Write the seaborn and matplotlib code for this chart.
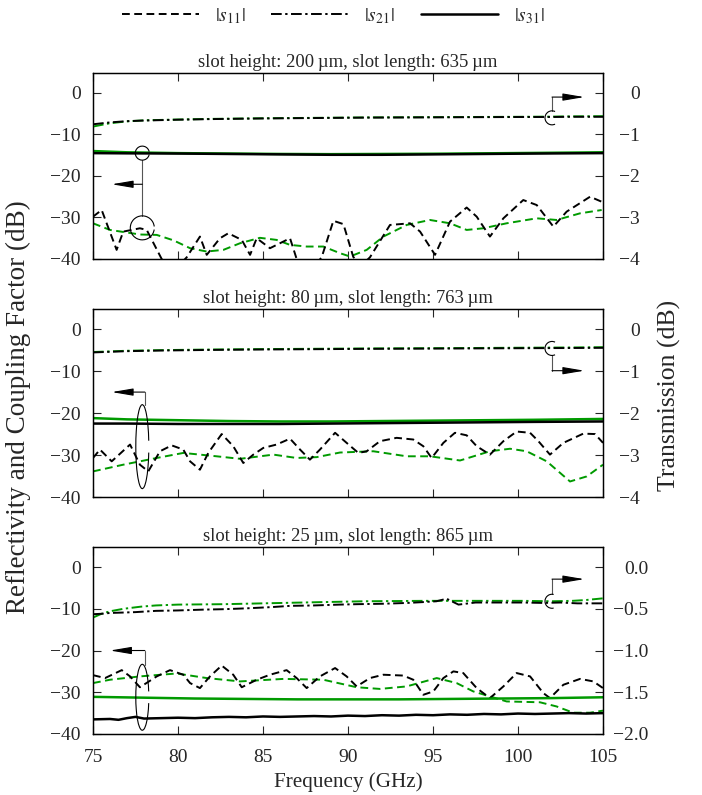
import numpy as np
import pandas as pd
import matplotlib
matplotlib.use("Agg")
import matplotlib.pyplot as plt
import seaborn as sns
from matplotlib.patches import Arc
from matplotlib.lines import Line2D

sns.set_style("ticks")
plt.rcParams["font.family"] = ["Liberation Serif", "DejaVu Serif"]
plt.rcParams["mathtext.fontset"] = "stix"
plt.rcParams["axes.unicode_minus"] = True

GREEN = "#009a00"
BLACK = "#000000"

# ---------------- data ----------------
titles = ["slot height: 200\u2009\u00b5m, slot length: 635\u2009\u00b5m",
          "slot height: 80\u2009\u00b5m, slot length: 763\u2009\u00b5m",
          "slot height: 25\u2009\u00b5m, slot length: 865\u2009\u00b5m"]
legend_labels = [r"$|s_{11}|$", r"$|s_{21}|$", r"$|s_{31}|$"]
x_ticks = [75, 80, 85, 90, 95, 100, 105]
left_ticks = [0, -10, -20, -30, -40]
right_ticks_12 = [0, -1, -2, -3, -4]
right_ticks_3 = [0.0, -0.5, -1.0, -1.5, -2.0]

# panel 1 : s11 (left axis, dB)
p1_s11_meas_f = [75.0, 75.51, 76.39, 76.78, 77.76, 78.16, 79.04, 79.73, 80.51, 81.29, 81.69,
                 82.47, 82.96, 83.75, 84.24, 84.63, 85.41, 86.59, 86.98, 87.76, 88.45, 89.14,
                 89.73, 90.31, 90.8, 91.29, 92.47, 93.65, 94.24, 95.12, 96.0, 96.98, 97.57,
                 98.35, 99.14, 100.31, 101.1, 102.08, 102.86, 104.24, 104.92]
p1_s11_meas = [-29.8, -28.2, -37.8, -33.4, -32.6, -33.0, -40.0, -43.0, -39.6, -34.6, -39.0,
               -35.0, -33.8, -35.4, -39.0, -35.0, -37.4, -35.0, -40.0, -43.0, -39.6, -30.8,
               -31.6, -39.5, -41.5, -39.6, -31.8, -31.4, -33.4, -39.0, -31.0, -27.6, -29.8,
               -34.6, -30.2, -25.8, -27.0, -32.2, -28.6, -25.0, -26.2]
p1_s11_sim_f = [75.0, 76.0, 77.76, 78.75, 79.73, 80.71, 81.69, 82.67, 83.65, 84.82, 85.8, 86.59,
                87.57, 88.55, 89.53, 90.12, 91.1, 92.08, 93.45, 94.82, 96.0, 96.98, 97.96,
                99.33, 101.1, 102.27, 103.65, 104.92]
p1_s11_sim = [-31.4, -33.0, -34.1, -34.2, -35.5, -37.4, -38.2, -37.8, -36.2, -34.9, -35.4, -36.6,
              -37.0, -37.0, -38.6, -39.4, -37.8, -34.6, -31.8, -30.6, -31.4, -33.0, -32.6,
              -31.4, -30.2, -30.6, -29.0, -28.2]
# panel 1 : s31 (left axis)
p1_s31_f = [75, 77, 80, 83, 86, 89, 92, 95, 98, 101, 105]
p1_s31_meas = [-14.5, -14.55, -14.6, -14.7, -14.8, -14.9, -14.9, -14.8, -14.7, -14.6, -14.5]
p1_s31_sim = [-14.0, -14.3, -14.5, -14.6, -14.7, -14.75, -14.7, -14.65, -14.55, -14.45, -14.3]
# panel 1 : s21 (right axis, transmission dB)
p1_s21_f = [75, 76, 77, 78, 80, 82, 85, 88, 91, 94, 97, 100, 102, 103, 105]
p1_s21_meas = [-0.755, -0.71, -0.68, -0.665, -0.645, -0.63, -0.615, -0.605, -0.595, -0.59,
               -0.585, -0.58, -0.58, -0.575, -0.575]
p1_s21_sim = [-0.81, -0.73, -0.685, -0.66, -0.64, -0.625, -0.61, -0.6, -0.59, -0.585, -0.58,
              -0.575, -0.57, -0.565, -0.56]

# panel 2
p2_s11_meas_f = [75.0, 75.41, 76.10, 77.18, 77.76, 78.25, 78.94, 79.63, 80.31, 80.71, 81.29,
                 81.78, 82.57, 83.25, 83.84, 84.43, 85.02, 85.80, 86.59, 87.18, 87.76, 88.35,
                 89.24, 89.92, 90.61, 91.10, 91.88, 92.86, 93.84, 94.43, 94.92, 95.61, 96.29,
                 96.98, 97.57, 98.35, 99.14, 99.92, 100.71, 101.2, 101.88, 102.67, 103.84,
                 104.53, 105.0]
p2_s11_meas = [-30.7, -28.7, -31.5, -27.5, -32.3, -33.9, -29.1, -27.7, -28.7, -31.5, -33.5,
               -29.5, -25.0, -27.9, -31.9, -29.9, -28.3, -27.5, -26.1, -28.7, -31.1, -28.7,
               -24.7, -27.1, -29.5, -29.1, -26.7, -25.9, -26.3, -27.9, -30.7, -27.1, -24.7,
               -25.3, -27.9, -29.9, -26.7, -24.4, -24.7, -26.7, -29.9, -27.1, -24.9, -25.0,
               -27.1]
p2_s11_sim_f = [75.0, 76.78, 78.75, 80.31, 82.27, 83.65, 85.61, 86.98, 88.16, 89.53, 91.49,
                93.45, 94.82, 96.59, 98.35, 99.53, 100.51, 101.69, 103.06, 104.04, 105.0]
p2_s11_sim = [-33.9, -32.3, -30.7, -29.5, -30.3, -30.9, -29.9, -30.7, -30.5, -29.4, -29.1,
              -30.3, -30.3, -31.3, -29.1, -28.5, -29.1, -31.5, -36.3, -35.1, -32.3]
p2_s31_f = [75, 77, 80, 83, 86, 89, 92, 95, 98, 101, 105]
p2_s31_meas = [-22.5, -22.5, -22.6, -22.6, -22.6, -22.5, -22.4, -22.3, -22.2, -22.1, -22.0]
p2_s31_sim = [-21.2, -21.5, -21.7, -21.9, -22.0, -22.0, -21.9, -21.8, -21.7, -21.6, -21.4]
p2_s21_f = [75, 76, 77, 79, 82, 85, 88, 91, 94, 97, 100, 103, 105]
p2_s21_meas = [-0.555, -0.54, -0.525, -0.51, -0.495, -0.485, -0.478, -0.47, -0.465, -0.46,
               -0.455, -0.45, -0.445]
p2_s21_sim = [-0.545, -0.53, -0.515, -0.5, -0.485, -0.475, -0.468, -0.46, -0.455, -0.45,
              -0.443, -0.437, -0.43]

# panel 3
p3_s11_meas_f = [75.0, 75.71, 76.69, 77.18, 77.76, 78.75, 79.53, 80.31, 80.71, 81.29, 81.88,
                 82.57, 83.25, 83.75, 84.63, 85.41, 86.39, 86.98, 87.57, 88.35, 89.24, 89.92,
                 90.51, 91.29, 92.08, 93.25, 93.84, 94.43, 95.02, 95.61, 96.2, 96.78, 97.57,
                 98.35, 99.14, 99.92, 100.71, 101.49, 101.88, 102.67, 103.65, 104.43, 105.0]
p3_s11_meas = [-25.9, -26.6, -24.7, -26.2, -28.8, -26.2, -24.7, -25.8, -27.8, -29.0, -26.2,
               -23.6, -25.8, -28.8, -27.0, -25.8, -24.7, -26.6, -29.0, -26.2, -24.2, -26.2,
               -28.6, -26.6, -25.8, -26.0, -27.0, -30.6, -29.8, -26.6, -25.0, -25.4, -29.0,
               -31.4, -28.6, -25.4, -26.2, -30.2, -31.4, -28.2, -26.8, -27.4, -29.0]
p3_s11_sim_f = [75.0, 76.0, 77.76, 79.92, 81.69, 83.65, 86.2, 88.55, 90.51, 91.88, 93.45,
                95.22, 96.39, 97.37, 99.33, 101.29, 102.27, 103.25, 104.24, 105.0]
p3_s11_sim = [-27.8, -27.0, -26.2, -25.5, -26.6, -27.4, -26.8, -27.0, -28.8, -29.2, -28.6,
              -26.6, -27.8, -29.8, -32.2, -32.4, -33.4, -34.9, -34.9, -34.4]
p3_s31_meas_f = [75, 76, 76.5, 77, 77.5, 78, 79, 80, 81, 82, 83, 84, 85, 86, 87, 88, 89, 90,
                 91, 92, 93, 94, 95, 96, 97, 98, 99, 100, 101, 102, 103, 104, 105]
p3_s31_meas = [-36.5, -36.4, -36.6, -36.2, -35.9, -36.3, -36.2, -36.1, -36.2, -36.0, -35.9,
               -36.0, -35.8, -35.9, -35.8, -35.7, -35.8, -35.6, -35.7, -35.5, -35.6, -35.4,
               -35.5, -35.3, -35.4, -35.2, -35.3, -35.1, -35.2, -35.1, -35.0, -35.1, -35.0]
p3_s31_sim_f = [75, 78, 81, 84, 87, 90, 93, 96, 99, 102, 105]
p3_s31_sim = [-31.1, -31.3, -31.5, -31.6, -31.7, -31.7, -31.7, -31.6, -31.5, -31.4, -31.2]
p3_s21_meas_f = [75, 75.5, 76, 76.8, 77.5, 78.7, 80, 81.5, 82.7, 84, 85.5, 86.6, 88, 89.5,
                 90.5, 92, 93.5, 94.4, 95.2, 95.8, 96.5, 97.5, 98.5, 100.3, 101.5, 102.5,
                 103.5, 105]
p3_s21_meas = [-0.565, -0.56, -0.55, -0.545, -0.54, -0.525, -0.52, -0.51, -0.505, -0.495,
               -0.48, -0.465, -0.46, -0.45, -0.445, -0.44, -0.43, -0.42, -0.41, -0.38,
               -0.45, -0.425, -0.425, -0.425, -0.43, -0.425, -0.435, -0.435]
p3_s21_sim_f = [75, 75.5, 76, 76.8, 77.8, 78.7, 80, 82.7, 85, 88.5, 91, 94.4, 97, 100.3, 102,
                103.2, 104, 105]
p3_s21_sim = [-0.605, -0.56, -0.53, -0.5, -0.475, -0.46, -0.45, -0.445, -0.435, -0.42, -0.41,
              -0.405, -0.405, -0.405, -0.41, -0.405, -0.395, -0.375]

panels = [
    dict(s11=[(p1_s11_meas_f, p1_s11_meas), (p1_s11_sim_f, p1_s11_sim)],
         s31=[(p1_s31_f, p1_s31_meas), (p1_s31_f, p1_s31_sim)],
         s21=[(p1_s21_f, p1_s21_meas), (p1_s21_f, p1_s21_sim)]),
    dict(s11=[(p2_s11_meas_f, p2_s11_meas), (p2_s11_sim_f, p2_s11_sim)],
         s31=[(p2_s31_f, p2_s31_meas), (p2_s31_f, p2_s31_sim)],
         s21=[(p2_s21_f, p2_s21_meas), (p2_s21_f, p2_s21_sim)]),
    dict(s11=[(p3_s11_meas_f, p3_s11_meas), (p3_s11_sim_f, p3_s11_sim)],
         s31=[(p3_s31_meas_f, p3_s31_meas), (p3_s31_sim_f, p3_s31_sim)],
         s21=[(p3_s21_meas_f, p3_s21_meas), (p3_s21_sim_f, p3_s21_sim)]),
]

# ---------------- figure ----------------
fig = plt.figure(figsize=(7.02, 7.95), dpi=100)
W, H = 702.0, 795.0
ax_left, ax_w = 93 / W, 510 / W
rects = [(259, 186), (497, 188), (734, 187)]
FS_TICK = 14
FS_TITLE = 13.4
FS_LABEL = 15.2
FS_YLABEL_L = 19.5
FS_YLABEL_R = 18.5
DASH = (0, (4.0, 2.3))
DASHDOT = (0, (5.5, 1.8, 1.2, 1.8))


def draw_line(ax, f, v, color, ls, lw):
    sns.lineplot(x=f, y=v, ax=ax, color=color, linestyle=ls, linewidth=lw,
                 legend=False, sort=False, estimator=None)


axes = []
for i, (pan, (bot, hgt)) in enumerate(zip(panels, rects)):
    ax = fig.add_axes([ax_left, 1 - bot / H, ax_w, hgt / H])
    ax2 = ax.twinx()
    axes.append((ax, ax2))
    (fm, vm), (fs, vs) = pan["s11"]
    draw_line(ax, fs, vs, GREEN, DASH, 1.4)
    draw_line(ax, fm, vm, BLACK, DASH, 1.4)
    (fm, vm), (fs, vs) = pan["s31"]
    draw_line(ax, fs, vs, GREEN, "-", 1.8)
    draw_line(ax, fm, vm, BLACK, "-", 1.8)
    (fm, vm), (fs, vs) = pan["s21"]
    draw_line(ax2, fs, vs, GREEN, DASHDOT, 1.4)
    draw_line(ax2, fm, vm, BLACK, DASHDOT, 1.4)

    ax.set_xlim(75, 105)
    ax.set_ylim(-40, 4.8)
    scale = 10 if i < 2 else 20
    ax2.set_ylim(-40 / scale, 4.8 / scale)
    ax.set_xticks(x_ticks)
    ax.set_yticks(left_ticks)
    ax.set_yticklabels([f"{t:d}".replace("-", "\u2212") for t in left_ticks])
    if i < 2:
        ax2.set_yticks(right_ticks_12)
        ax2.set_yticklabels([f"{t:d}".replace("-", "\u2212") for t in right_ticks_12])
        rpad = 26.5
    else:
        ax2.set_yticks(right_ticks_3)
        ax2.set_yticklabels([f"{t:.1f}".replace("-", "\u2212") for t in right_ticks_3])
        rpad = 32.5
    for lab in ax2.get_yticklabels():
        lab.set_horizontalalignment("right")
    ax.tick_params(axis="x", direction="in", top=True, bottom=True, length=6, width=0.8,
                   labelsize=FS_TICK, pad=11, labelbottom=(i == 2))
    ax.tick_params(axis="y", direction="in", left=True, right=False, length=6, width=0.8,
                   labelsize=FS_TICK, pad=9)
    ax2.tick_params(axis="y", direction="in", right=True, length=6, width=0.8,
                    labelsize=FS_TICK, pad=rpad)
    for a in (ax, ax2):
        for s in a.spines.values():
            s.set_linewidth(0.9)
            s.set_color("black")
        a.set_xlabel("")
        a.set_ylabel("")
    ax.set_title(titles[i], fontsize=FS_TITLE, pad=4)

fig.canvas.draw()


def px(ax):
    p0 = ax.transData.transform((0, 0))
    p1 = ax.transData.transform((1, 1))
    return abs(p1[0] - p0[0]), abs(p1[1] - p0[1])


CON = "#555555"
AKW = dict(arrowstyle="-|>,head_length=1.3,head_width=0.22", color="black", lw=0.8,
           shrinkA=0, shrinkB=0)


def circle(ax, x, y, r, t1, t2):
    sx, sy = px(ax)
    ax.add_patch(Arc((x, y), 2 * r / sx, 2 * r / sy, theta1=t1, theta2=t2,
                     color="black", lw=0.8, zorder=6))


def ellipse(ax, x, y, wpx, hdata, t1, t2):
    sx, sy = px(ax)
    ax.add_patch(Arc((x, y), wpx / sx, hdata, theta1=t1, theta2=t2,
                     color="black", lw=0.8, zorder=6))


def arrow(ax, x0, x1, y):
    ax.annotate("", xy=(x1, y), xytext=(x0, y), arrowprops=AKW, zorder=7)


# panel 1 left
ax, ax2 = axes[0]
sx, sy = px(ax)
circle(ax, 77.9, -14.5, 7, 40, 320)
circle(ax, 77.9, -32.5, 12, 25, 330)
ax.plot([77.9, 77.9], [-14.5 - 7 / sy, -32.5 + 12 / sy], color=CON, lw=0.8)
arrow(ax, 77.9, 76.1, -22)
# panel 1 right
sx, sy = px(ax2)
circle(ax2, 102, -0.6, 7, 40, 320)
ax2.plot([102, 102], [-0.6 + 7 / sy, -0.1], color=CON, lw=0.8)
arrow(ax2, 102, 103.9, -0.1)

# panel 2 left
ax, ax2 = axes[1]
ellipse(ax, 77.9, -28, 13, 20, 75, 285)
ax.plot([78.05, 78.05], [-18.1, -15], color=CON, lw=0.8)
arrow(ax, 78.05, 76.1, -15)
# panel 2 right
sx, sy = px(ax2)
circle(ax2, 102, -0.46, 7, 40, 320)
ax2.plot([102, 102], [-0.46 - 7 / sy, -0.99], color=CON, lw=0.8)
arrow(ax2, 102, 103.9, -0.99)

# panel 3 left
ax, ax2 = axes[2]
ellipse(ax, 77.9, -31.2, 13, 15.8, 75, 285)
ax.plot([78.05, 78.05], [-23.4, -20], color=CON, lw=0.8)
arrow(ax, 78.05, 76.0, -20)
# panel 3 right
sx, sy = px(ax2)
circle(ax2, 102, -0.41, 7, 40, 320)
ax2.plot([102, 102], [-0.41 + 7 / sy, -0.145], color=CON, lw=0.8)
arrow(ax2, 102, 103.9, -0.145)

axes[2][0].set_xlabel("Frequency (GHz)", fontsize=FS_LABEL, labelpad=4)

fig.text(18 / W, 1 - 407 / H, "Reflectivity and Coupling Factor (dB)", rotation=90,
         ha="center", va="center", fontsize=FS_YLABEL_L)
fig.text(669 / W, 1 - 395 / H, "Transmission (dB)", rotation=90,
         ha="center", va="center", fontsize=FS_YLABEL_R)

handles = [Line2D([], [], color="black", lw=1.4, linestyle=DASH),
           Line2D([], [], color="black", lw=1.4, linestyle=DASHDOT),
           Line2D([], [], color="black", lw=1.8, linestyle="-")]
fig.legend(handles, legend_labels, loc="center", bbox_to_anchor=(333 / W, 1 - 16 / H),
           ncol=3, frameon=False, fontsize=14, handlelength=3.95, handletextpad=0.82,
           columnspacing=1.35)

fig.savefig("out.png", dpi=100)
